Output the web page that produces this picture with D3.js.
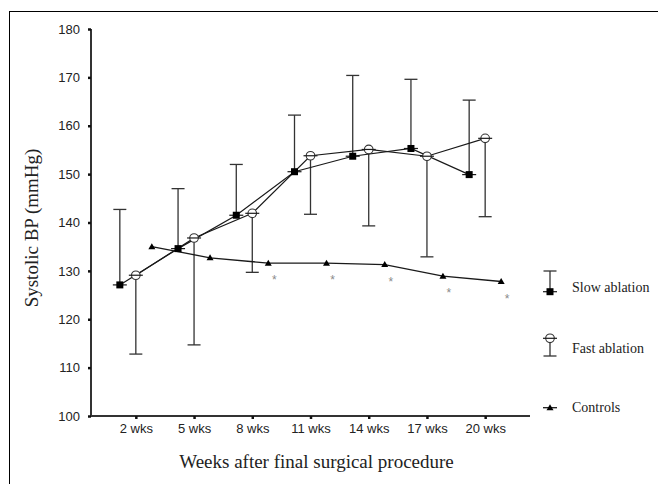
<!DOCTYPE html>
<html>
<head>
<meta charset="utf-8">
<script src="https://cdn.jsdelivr.net/npm/d3@7/dist/d3.min.js"></script>
<style>
  html, body { margin: 0; padding: 0; background: #fff; }
  svg { display: block; }
</style>
</head>
<body>
<svg id="chart" width="658" height="484"></svg>
<script>
// ---- data ----
const categories = ["2 wks", "5 wks", "8 wks", "11 wks", "14 wks", "17 wks", "20 wks"];
const slowMean  = [127.1, 134.6, 141.5, 150.5, 153.7, 155.3, 149.9];
const slowUpper = [142.7, 147.0, 152.0, 162.2, 170.4, 169.6, 165.3];
const fastMean  = [129.1, 136.8, 141.9, 153.8, 155.1, 153.7, 157.4];
const fastLower = [112.8, 114.7, 129.7, 141.7, 139.3, 132.9, 141.2];
const controlMean = [135.0, 132.7, 131.6, 131.6, 131.3, 128.9, 127.8];
const significant = [false, false, true, true, true, true, true];
const yTicks = [100, 110, 120, 130, 140, 150, 160, 170, 180];
const legendLabels = ["Slow ablation", "Fast ablation", "Controls"];
const xTitle = "Weeks after final surgical procedure";
const yTitle = "Systolic BP (mmHg)";

// ---- layout ----
const svg = d3.select("#chart");
const x = d3.scalePoint().domain(categories).range([91, 530]).padding(0.77);
const y = d3.scaleLinear().domain([100, 180]).range([416, 29]);
const offSlow = -16, offFast = 0, offCtrl = 16;
const ink = "#1a1a1a";

// frame
svg.append("rect").attr("x", 9.5).attr("y", 11.5).attr("width", 700).attr("height", 600)
  .attr("fill", "none").attr("stroke", "#000").attr("stroke-width", 1);

// axes
const yAxis = svg.append("g").attr("transform", "translate(91,0)")
  .call(d3.axisLeft(y).tickValues(yTicks).tickSizeInner(3).tickSizeOuter(0).tickPadding(8));
const xAxis = svg.append("g").attr("transform", "translate(0,416)")
  .call(d3.axisBottom(x).tickSizeInner(3).tickSizeOuter(0).tickPadding(4.5));
[yAxis, xAxis].forEach(g => {
  g.select(".domain").attr("stroke", "#333").attr("stroke-width", 2);
  g.selectAll(".tick line").attr("stroke", "#111").attr("stroke-width", 2.5);
  g.selectAll(".tick text").attr("fill", "#222")
    .style("font-family", "'Liberation Sans', Arial, sans-serif").style("font-size", "13px");
});
// extend y-axis to corner
yAxis.select(".domain").attr("d", "M0,29V417");
xAxis.select(".domain").attr("d", "M91,0H530");

// titles
svg.append("text").attr("x", 316.5).attr("y", 468).attr("text-anchor", "middle")
  .attr("fill", "#222").style("font-family", "'Liberation Serif', 'Times New Roman', serif")
  .style("font-size", "19px").text(xTitle);
svg.append("text").attr("transform", "translate(38,228) rotate(-90)").attr("text-anchor", "middle")
  .attr("fill", "#222").style("font-family", "'Liberation Serif', 'Times New Roman', serif")
  .style("font-size", "19px").text(yTitle);

const plot = svg.append("g");
const capW = 6.5;

// error bars: slow (upward)
categories.forEach((c, i) => {
  const cx = x(c) + offSlow;
  plot.append("line").attr("x1", cx).attr("x2", cx).attr("y1", y(slowMean[i])).attr("y2", y(slowUpper[i]))
    .attr("stroke", "#333").attr("stroke-width", 1.3);
  plot.append("line").attr("x1", cx - capW).attr("x2", cx + capW).attr("y1", y(slowUpper[i])).attr("y2", y(slowUpper[i]))
    .attr("stroke", "#333").attr("stroke-width", 1.3);
});
// error bars: fast (downward)
categories.forEach((c, i) => {
  const cx = x(c) + offFast;
  plot.append("line").attr("x1", cx).attr("x2", cx).attr("y1", y(fastMean[i])).attr("y2", y(fastLower[i]))
    .attr("stroke", "#333").attr("stroke-width", 1.3);
  plot.append("line").attr("x1", cx - capW).attr("x2", cx + capW).attr("y1", y(fastLower[i])).attr("y2", y(fastLower[i]))
    .attr("stroke", "#333").attr("stroke-width", 1.3);
});

// lines
const mkLine = (off) => d3.line().x((d, i) => x(categories[i]) + off).y(d => y(d));
plot.append("path").datum(slowMean).attr("d", mkLine(offSlow)).attr("fill", "none").attr("stroke", ink).attr("stroke-width", 1.2);
plot.append("path").datum(fastMean).attr("d", mkLine(offFast)).attr("fill", "none").attr("stroke", ink).attr("stroke-width", 1.2);
plot.append("path").datum(controlMean).attr("d", mkLine(offCtrl)).attr("fill", "none").attr("stroke", ink).attr("stroke-width", 1.3);

// marker helpers
function squareMark(g, cx, cy) {
  g.append("line").attr("x1", cx - 7).attr("x2", cx + 7).attr("y1", cy).attr("y2", cy).attr("stroke", ink).attr("stroke-width", 1.2);
  g.append("rect").attr("x", cx - 3.5).attr("y", cy - 3.5).attr("width", 7).attr("height", 7).attr("fill", "#000");
}
function circleMark(g, cx, cy) {
  g.append("circle").attr("cx", cx).attr("cy", cy).attr("r", 4.3).attr("fill", "#fff").attr("stroke", "#333").attr("stroke-width", 1.1);
  g.append("line").attr("x1", cx - 7).attr("x2", cx + 7).attr("y1", cy).attr("y2", cy).attr("stroke", ink).attr("stroke-width", 1.2);
}
function triMark(g, cx, cy) {
  g.append("path").attr("d", `M${cx - 3.5},${cy + 2.5}L${cx},${cy - 3.5}L${cx + 3.5},${cy + 2.5}Z`).attr("fill", "#000");
}

categories.forEach((c, i) => {
  squareMark(plot, x(c) + offSlow, y(slowMean[i]));
});
categories.forEach((c, i) => {
  circleMark(plot, x(c) + offFast, y(fastMean[i]));
});
categories.forEach((c, i) => {
  triMark(plot, x(c) + offCtrl, y(controlMean[i]));
});

// significance asterisks
categories.forEach((c, i) => {
  if (!significant[i]) return;
  plot.append("text").attr("x", x(c) + offCtrl + 6).attr("y", y(controlMean[i]) + 21)
    .attr("text-anchor", "middle").attr("fill", "#8a8a8a")
    .style("font-family", "'Liberation Sans', Arial, sans-serif").style("font-size", "12px").text("*");
});

// legend
const lg = svg.append("g");
const lx = 550;
// slow
lg.append("line").attr("x1", lx).attr("x2", lx).attr("y1", 271).attr("y2", 291.7).attr("stroke", "#333").attr("stroke-width", 1.3);
lg.append("line").attr("x1", lx - capW).attr("x2", lx + capW).attr("y1", 271).attr("y2", 271).attr("stroke", "#333").attr("stroke-width", 1.3);
squareMark(lg, lx, 291.7);
// fast
lg.append("line").attr("x1", lx).attr("x2", lx).attr("y1", 338.3).attr("y2", 356).attr("stroke", "#333").attr("stroke-width", 1.3);
lg.append("line").attr("x1", lx - capW).attr("x2", lx + capW).attr("y1", 356).attr("y2", 356).attr("stroke", "#333").attr("stroke-width", 1.3);
circleMark(lg, lx, 338.3);
// controls
lg.append("line").attr("x1", lx - 7).attr("x2", lx + 7).attr("y1", 407.7).attr("y2", 407.7).attr("stroke", ink).attr("stroke-width", 1.3);
triMark(lg, lx, 407.7);

const legendY = [286.7, 347.7, 406.7];
legendLabels.forEach((t, i) => {
  lg.append("text").attr("x", 572).attr("y", legendY[i]).attr("dy", "0.35em")
    .attr("fill", "#222").style("font-family", "'Liberation Serif', 'Times New Roman', serif")
    .style("font-size", "14px").text(t);
});
</script>
</body>
</html>
